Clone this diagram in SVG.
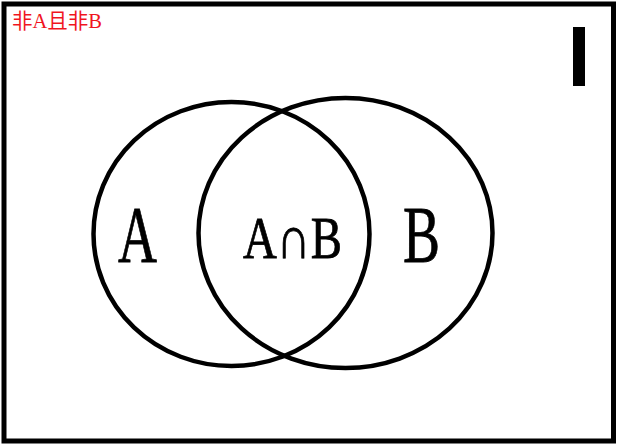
<svg xmlns="http://www.w3.org/2000/svg" width="624" height="448" viewBox="0 0 624 448">
<style>
.set{fill:none;stroke:#000;stroke-width:4.5}
.lbl{font-family:"Liberation Serif","DejaVu Serif",serif;fill:#000;stroke:#000;stroke-width:0.8}
</style>
<rect x="0" y="0" width="624" height="448" fill="#fff"/>
<rect id="universe" x="4" y="4" width="609.5" height="437" fill="none" stroke="#000" stroke-width="5"/>
<rect id="bar" x="573" y="27" width="12" height="59" fill="#000"/>
<text id="complement" x="12" y="27.5" font-family="'Liberation Serif','Noto Sans CJK SC',serif" font-size="21" fill="#f0141e" textLength="90" lengthAdjust="spacingAndGlyphs">非A且非B</text>
<g id="connectors"></g>
<g id="setA">
<ellipse class="set" cx="231.5" cy="234" rx="138" ry="132"/>
<text class="lbl" x="118" y="262" font-size="80" textLength="39" lengthAdjust="spacingAndGlyphs">A</text>
</g>
<g id="setB">
<ellipse class="set" cx="345.5" cy="233" rx="147" ry="135"/>
<text class="lbl" x="403" y="262" font-size="80" textLength="37" lengthAdjust="spacingAndGlyphs">B</text>
</g>
<g id="intersection">
<text class="lbl" x="243" y="258" font-size="60" stroke-width="1.4" textLength="99" lengthAdjust="spacingAndGlyphs">A∩B</text>
</g>
</svg>
